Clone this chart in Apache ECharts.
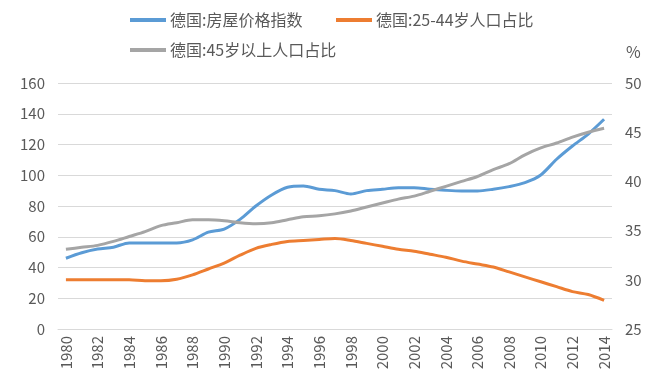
<!DOCTYPE html>
<html><head><meta charset="utf-8">
<script src="https://cdn.jsdelivr.net/npm/echarts@6/dist/echarts.min.js"></script>
<style>html,body{margin:0;padding:0;background:#fff}#c{width:666px;height:381px}</style>
</head><body><div id="c"></div>
<script>
const years = [];
for (let y = 1980; y <= 2014; y++) years.push(String(y));
const housePrice = [46,49.6,52,53.2,56,56,56,56,58,63,65,71.3,80,87.2,92.2,93,90.9,90,87.8,90,90.9,91.9,91.9,90.9,90.2,89.8,89.8,90.9,92.6,95.2,100.2,110.4,119,126.8,136.4];
const share2544 = [30,30,30,30,30,29.9,29.9,30.05,30.5,31.1,31.7,32.5,33.2,33.6,33.9,34,34.1,34.2,34,33.7,33.4,33.1,32.9,32.6,32.3,31.9,31.6,31.3,30.8,30.3,29.8,29.3,28.8,28.5,27.9];
const share45 = [33.1,33.3,33.5,33.9,34.4,34.9,35.5,35.8,36.1,36.1,36,35.8,35.7,35.8,36.1,36.4,36.5,36.7,37,37.4,37.8,38.2,38.5,39,39.5,40,40.5,41.2,41.8,42.7,43.4,43.9,44.5,45,45.4];
const names = ['德国:房屋价格指数','德国:25-44岁人口占比','德国:45岁以上人口占比'];
const colors = ['#5b9bd5','#ed7d31','#a5a5a5'];
const font = '"Noto Sans CJK SC", "Open Sans", sans-serif';
const chart = echarts.init(document.getElementById('c'));
const legendBase = {icon:'rect', itemWidth:36, itemHeight:4, itemGap:5,
  textStyle:{color:'#595959', fontSize:16, fontFamily:font, padding:[0,0,0,-1]}};
chart.setOption({
  animation:false,
  color: colors,
  grid:{left:58, right:54, top:83, bottom:52},
  legend:[
    Object.assign({}, legendBase, {data:[names[0]], left:125, top:7}),
    Object.assign({}, legendBase, {data:[names[1]], left:331, top:7}),
    Object.assign({}, legendBase, {data:[names[2]], left:125, top:37})
  ],
  graphic:[{type:'text', left:626, top:44, style:{text:'%', fill:'#595959', font:'16px ' + font}}],
  xAxis:{type:'category', data:years, boundaryGap:true,
    axisLine:{lineStyle:{color:'#d9d9d9'}},
    axisTick:{interval:1, length:5, lineStyle:{color:'#d9d9d9'}},
    axisLabel:{interval:1, rotate:90, color:'#595959', fontSize:15, fontFamily:font, margin:7}},
  yAxis:[
    {type:'value', min:0, max:160, interval:20,
     axisLine:{show:false}, axisTick:{show:false},
     splitLine:{lineStyle:{color:'#d9d9d9'}},
     axisLabel:{color:'#595959', fontSize:15, fontFamily:font, margin:13}},
    {type:'value', min:25, max:50, interval:5,
     axisLine:{show:false}, axisTick:{show:false},
     splitLine:{show:false},
     axisLabel:{color:'#595959', fontSize:15, fontFamily:font, margin:13}}
  ],
  series:[
    {name:names[0], type:'line', data:housePrice, yAxisIndex:0, symbol:'none', smooth:0.3, lineStyle:{width:3}},
    {name:names[1], type:'line', data:share2544, yAxisIndex:1, symbol:'none', smooth:0.3, lineStyle:{width:3}},
    {name:names[2], type:'line', data:share45, yAxisIndex:1, symbol:'none', smooth:0.3, lineStyle:{width:3}}
  ]
});
</script></body></html>
